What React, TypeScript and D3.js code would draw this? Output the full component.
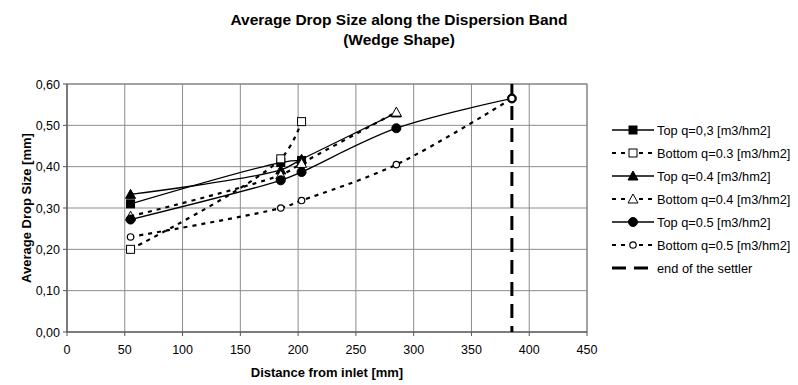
import React from 'react';
import * as d3 from 'd3';

// distances along the settler [mm]
const xTop03 = [55, 185, 203];
const yTop03 = [0.31, 0.41, 0.415];
const xBot03 = [55, 185, 203];
const yBot03 = [0.20, 0.419, 0.509];
const xTop04 = [55, 185, 203, 285];
const yTop04 = [0.333, 0.392, 0.418, 0.53];
const xBot04 = [55, 185, 203, 285];
const yBot04 = [0.28, 0.38, 0.408, 0.532];
const xTop05 = [55, 185, 203, 285, 385];
const yTop05 = [0.272, 0.367, 0.387, 0.493, 0.565];
const xBot05 = [55, 185, 203, 285, 385];
const yBot05 = [0.23, 0.30, 0.318, 0.405, 0.565];
const settlerEnd = 385;

const xTicks = [0, 50, 100, 150, 200, 250, 300, 350, 400, 450];
const yTicks = [0, 0.1, 0.2, 0.3, 0.4, 0.5, 0.6];

type Marker = 'square' | 'triangle' | 'circle' | 'smallcircle';

const series: {name: string; xs: number[]; ys: number[]; marker: Marker; filled: boolean; dashed: boolean}[] = [
    {name: 'Top q=0,3 [m3/hm2]', xs: xTop03, ys: yTop03, marker: 'square', filled: true, dashed: false},
    {name: 'Bottom q=0.3 [m3/hm2]', xs: xBot03, ys: yBot03, marker: 'square', filled: false, dashed: true},
    {name: 'Top q=0.4 [m3/hm2]', xs: xTop04, ys: yTop04, marker: 'triangle', filled: true, dashed: false},
    {name: 'Bottom q=0.4 [m3/hm2]', xs: xBot04, ys: yBot04, marker: 'triangle', filled: false, dashed: true},
    {name: 'Top q=0.5 [m3/hm2]', xs: xTop05, ys: yTop05, marker: 'circle', filled: true, dashed: false},
    {name: 'Bottom q=0.5 [m3/hm2]', xs: xBot05, ys: yBot05, marker: 'smallcircle', filled: false, dashed: true},
];

const FONT = 'Arial, "Liberation Sans", sans-serif';
const W = 798;
const H = 385;
const plot = {left: 67, right: 587, top: 84, bottom: 332};

function MarkerShape({type, filled, cx, cy}: {type: Marker; filled: boolean; cx: number; cy: number}) {
    const fill = filled ? '#000' : '#fff';
    if (type === 'square') {
        return <rect x={cx - 4} y={cy - 4} width={8} height={8} fill={fill} stroke="#000" strokeWidth={1}/>;
    }
    if (type === 'triangle') {
        const p = `${cx},${cy - 5} ${cx + 5},${cy + 4} ${cx - 5},${cy + 4}`;
        return <polygon points={p} fill={fill} stroke="#000" strokeWidth={1}/>;
    }
    if (type === 'circle') {
        return <circle cx={cx} cy={cy} r={4.5} fill={fill} stroke="#000" strokeWidth={1}/>;
    }
    return <circle cx={cx} cy={cy} r={3.2} fill={fill} stroke="#000" strokeWidth={1.2}/>;
}

export default function App() {
    const x = d3.scaleLinear().domain([0, 450]).range([plot.left, plot.right]);
    const y = d3.scaleLinear().domain([0, 0.6]).range([plot.bottom, plot.top]);
    const line = d3.line<[number, number]>()
        .x(d => x(d[0]))
        .y(d => y(d[1]))
        .curve(d3.curveCatmullRom.alpha(0.5));
    const fmt = (v: number) => v.toFixed(2).replace('.', ',');

    const legendX = 612;
    const legendY0 = 130;
    const legendStep = 23;

    return (
        <svg width={W} height={H} style={{position: 'absolute', left: 0, top: 0, fontFamily: FONT}}>
            <rect width={W} height={H} fill="#fff"/>
            <text x={399} y={24.5} textAnchor="middle" fontWeight="bold" fontSize={15.5}>
                Average Drop Size along the Dispersion Band
            </text>
            <text x={399} y={44.5} textAnchor="middle" fontWeight="bold" fontSize={15.5}>(Wedge Shape)</text>

            {/* grid */}
            {xTicks.map(t => (
                <line key={'gx' + t} x1={x(t)} x2={x(t)} y1={plot.top} y2={plot.bottom} stroke="#8c8c8c" strokeWidth={1}/>
            ))}
            {yTicks.map(t => (
                <line key={'gy' + t} x1={plot.left} x2={plot.right} y1={y(t)} y2={y(t)} stroke="#8c8c8c" strokeWidth={1}/>
            ))}
            <rect x={plot.left} y={plot.top} width={plot.right - plot.left} height={plot.bottom - plot.top}
                  fill="none" stroke="#808080" strokeWidth={1}/>
            <line x1={plot.left} x2={plot.left} y1={plot.top} y2={plot.bottom} stroke="#555" strokeWidth={1}/>
            <line x1={plot.left} x2={plot.right} y1={plot.bottom} y2={plot.bottom} stroke="#555" strokeWidth={1}/>

            {/* ticks */}
            {yTicks.map(t => (
                <g key={'ty' + t}>
                    <line x1={plot.left - 4} x2={plot.left} y1={y(t)} y2={y(t)} stroke="#555"/>
                    <text x={plot.left - 7} y={y(t) + 4.5} textAnchor="end" fontSize={12.5}>{fmt(t)}</text>
                </g>
            ))}
            {xTicks.map(t => (
                <g key={'tx' + t}>
                    <line x1={x(t)} x2={x(t)} y1={plot.bottom} y2={plot.bottom + 4} stroke="#555"/>
                    <text x={x(t)} y={plot.bottom + 22} textAnchor="middle" fontSize={12.5}>{t}</text>
                </g>
            ))}
            <text x={(plot.left + plot.right) / 2} y={377} textAnchor="middle" fontWeight="bold" fontSize={13}>
                Distance from inlet [mm]
            </text>
            <text transform={`translate(31, ${(plot.top + plot.bottom) / 2}) rotate(-90)`} textAnchor="middle"
                  fontWeight="bold" fontSize={13}>Average Drop Size [mm]</text>

            {/* series */}
            {series.map(s => (
                <path key={'l' + s.name} d={line(s.xs.map((v, i) => [v, s.ys[i]] as [number, number])) || ''}
                      fill="none" stroke="#000" strokeWidth={s.dashed ? 2.2 : 1.3}
                      strokeDasharray={s.dashed ? '4 5' : undefined}/>
            ))}
            <line x1={x(settlerEnd)} x2={x(settlerEnd)} y1={plot.top} y2={plot.bottom} stroke="#000" strokeWidth={3}
                  strokeDasharray="14 8"/>
            {series.map(s => s.xs.map((v, i) => (
                <MarkerShape key={s.name + i} type={s.marker} filled={s.filled} cx={x(v)} cy={y(s.ys[i])}/>
            )))}

            {/* legend */}
            {series.map((s, i) => {
                const ly = legendY0 + i * legendStep;
                return (
                    <g key={'lg' + s.name}>
                        <line x1={legendX} x2={legendX + 42} y1={ly} y2={ly} stroke="#000"
                              strokeWidth={s.dashed ? 2.2 : 1.3} strokeDasharray={s.dashed ? '4 5' : undefined}/>
                        <MarkerShape type={s.marker} filled={s.filled} cx={legendX + 21} cy={ly}/>
                        <text x={legendX + 45} y={ly + 4.5} fontSize={12.8}>{s.name}</text>
                    </g>
                );
            })}
            <line x1={legendX} x2={legendX + 42} y1={legendY0 + 6 * legendStep} y2={legendY0 + 6 * legendStep}
                  stroke="#000" strokeWidth={3} strokeDasharray="14 8"/>
            <text x={legendX + 45} y={legendY0 + 6 * legendStep + 4.5} fontSize={12.8}>end of the settler</text>
        </svg>
    );
}
